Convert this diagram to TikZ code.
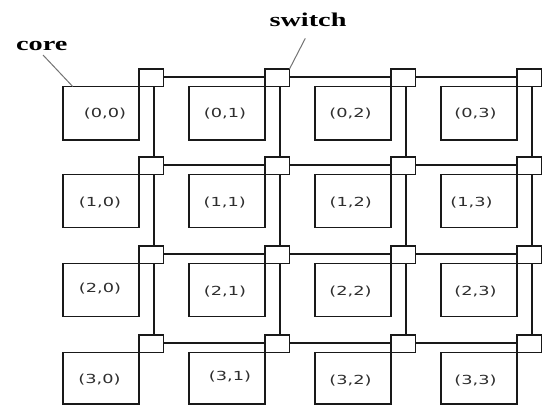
\documentclass[tikz,border=0pt]{standalone}
\usepackage{fontspec}
\usepackage{graphicx}
\newfontfamily\cellfont{DejaVu Sans}
\newfontfamily\tagfont{Liberation Serif}
% wide lettering used for every label
\newcommand\widetext[2][1.45]{\scalebox{#1}[1]{#2}}
\begin{document}
\begin{tikzpicture}[x=1pt,y=-1pt,
  wire/.style={line width=1.8pt, draw=black!90},
  corebox/.style={draw=black!90, line width=1.8pt, inner sep=0pt, outer sep=0pt,
    anchor=north west, minimum width=76pt},
  switchbox/.style={draw=black!90, line width=1.8pt, fill=white, inner sep=0pt,
    outer sep=0pt, anchor=north west, minimum width=24.5pt, minimum height=17.5pt},
  cellname/.style={font=\cellfont\fontsize{12.5}{12.5}\selectfont, text=black!82, inner sep=0pt},
  tag/.style={font=\tagfont\bfseries\fontsize{19.5}{19.5}\selectfont, inner sep=0pt, anchor=base},
  pointer/.style={draw=black!55, line width=1pt}]
\useasboundingbox (0,0) rectangle (542,405);

% cores and their switches (switch sits on the core's top-right corner)
\foreach \r/\Y/\h in {0/69/53.5, 1/157/53, 2/246/53, 3/335/51.5} {
  \foreach \c/\X in {0/139, 1/265, 2/391, 3/517} {
    \node[corebox, minimum height=\h*1pt] (c\r\c) at (\X-76, \Y+17.5) {};
    \node[switchbox] (s\r\c) at (\X, \Y) {};
  }
}

% horizontal links between switches
\foreach \r in {0,...,3} {
  \foreach \c/\n in {0/1, 1/2, 2/3} {
    \draw[wire] ([yshift=-7.7pt]s\r\c.north east) -- ([yshift=-7.7pt]s\r\n.north west);
  }
}

% vertical links between switches
\foreach \r/\n in {0/1, 1/2, 2/3} {
  \foreach \c in {0,...,3} {
    \draw[wire] ([xshift=15.3pt]s\r\c.south west) -- ([xshift=15.3pt]s\n\c.north west);
  }
}

% core coordinates
\foreach \r/\c/\x/\y in {
  0/0/105/114, 0/1/225/114, 0/2/350.5/114, 0/3/475.5/114,
  1/0/100/203, 1/1/224.7/203, 1/2/350.7/203, 1/3/471.5/203,
  2/0/100/288.3, 2/1/225/291.7, 2/2/350.5/291.7, 2/3/475.5/291.7,
  3/0/99.5/380, 3/1/230/376.7, 3/2/350.5/380.7, 3/3/475.5/380.7} {
  \node[cellname] (l\r\c) at (\x,\y) {\widetext[1.42]{(\r,\c)}};
}

% callouts
\node[tag] (coretag) at (41.7,50) {\widetext{core}};
\node[tag] (switchtag) at (308,26.7) {\widetext{switch}};
\coordinate (coretip) at (43,55);
\coordinate (switchtip) at (305.3,38.3);
\draw[pointer] (coretip) -- ([xshift=9.7pt]c00.north west);
\draw[pointer] (switchtip) -- (s01.north east);
\end{tikzpicture}
\end{document}
